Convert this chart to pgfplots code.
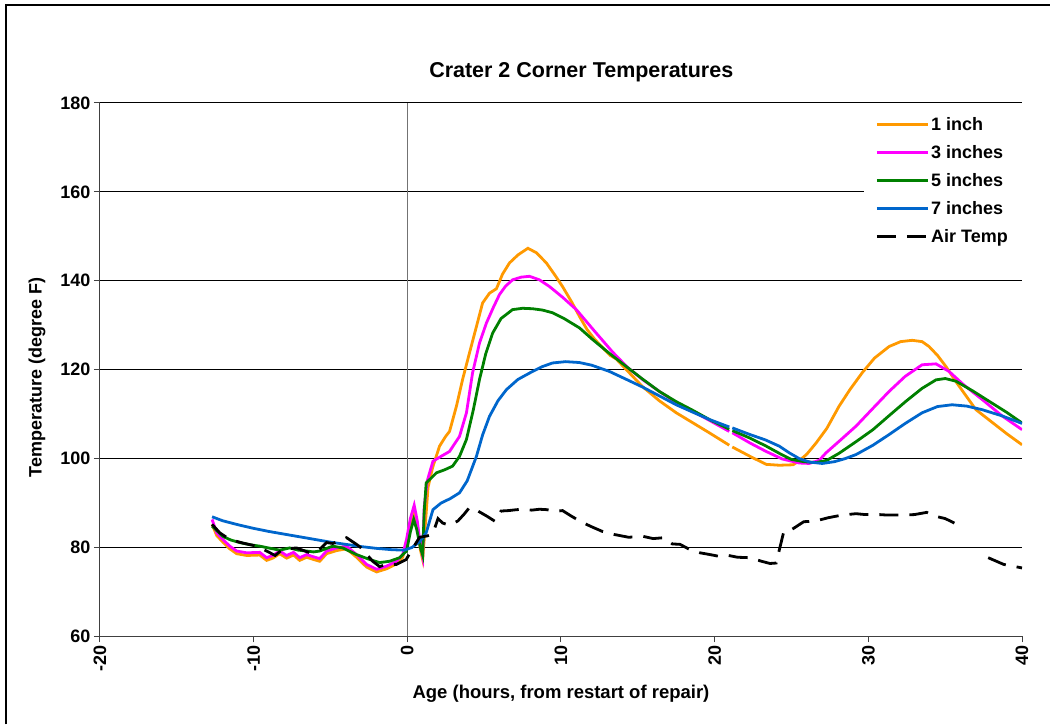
\documentclass[border=0pt]{standalone}
\usepackage{fontspec}
\setmainfont{Liberation Sans}
\usepackage{pgfplots}
\pgfplotsset{compat=1.18}

\definecolor{inA}{RGB}{255,153,0}
\definecolor{inB}{RGB}{255,0,255}
\definecolor{inC}{RGB}{0,128,0}
\definecolor{inD}{RGB}{0,102,204}

\begin{document}
\begin{tikzpicture}
\begin{axis}[
  scale only axis,
  width=923pt, height=534pt,
  xmin=-20, xmax=40, ymin=60, ymax=180,
  xtick={-20,-10,0,10,20,30,40},
  xticklabels={-20,-10,0,10,20,30,40},
  ytick={60,80,100,120,140,160,180},
  yticklabels={60,80,100,120,140,160,180},
  axis lines*=left,
  axis line style={black!75, line width=1pt},
  ymajorgrids,
  grid style={black, line width=0.9pt},
  tick align=outside,
  major tick length=6pt,
  tick style={black!75, line width=1pt},
  ticklabel style={font=\fontsize{18}{20}\selectfont\bfseries},
  xticklabel style={rotate=90, anchor=east},
  title={Crater 2 Corner Temperatures},
  title style={font=\fontsize{21.5}{24}\selectfont\bfseries, at={(0.522,1)}, anchor=center, yshift=25pt},
  xlabel={Age (hours, from restart of repair)},
  xlabel style={font=\fontsize{18.5}{20}\selectfont\bfseries, at={(axis description cs:0.5,0)}, anchor=center, yshift=-57pt},
  ylabel={Temperature (degree F)},
  ylabel style={font=\fontsize{18}{20}\selectfont\bfseries, at={([xshift=-63pt]axis description cs:0,0.485)}, anchor=center},
  unbounded coords=jump,
  legend style={at={(1,0.985)}, anchor=north east, draw=none, fill=white,
    font=\fontsize{18}{20}\selectfont\bfseries, row sep=9.5pt, inner xsep=12pt, inner ysep=4pt},
  legend cell align=left,
  legend image code/.code={\draw[#1] (0pt,0pt) -- (51pt,0pt);},
]
\coordinate (O) at (rel axis cs:0,0);
\addplot[black!55, line width=1.2pt, forget plot] coordinates {(0,60) (0,180)};

\addplot[inA, line width=2.8pt] coordinates {
(-12.7,85.2) (-12.4,82.7) (-12.0,81.2) (-11.55,79.7) (-11.1,78.6) (-10.45,78.2) (-9.6,78.3) (-9.15,77.1) (-8.75,77.6) (-8.3,78.6) (-7.85,77.6) (-7.4,78.3) (-7.0,77.1) (-6.55,77.8) (-6.1,77.3) (-5.7,76.9) (-5.25,78.6) (-4.6,79.3) (-3.95,79.7) (-3.3,77.8) (-2.65,75.6) (-2.0,74.5) (-1.35,75.2) (-0.7,76.3) (-0.3,77.8) (-0.05,80.8) (0.2,85.0) (0.45,88.3) (0.65,85.0) (0.85,79.5) (1.0,77.3) (1.15,84.0) (1.35,93.5) (1.65,98.0) (2.1,102.8) (2.5,105.0) (2.75,106.1) (3.2,111.8) (3.6,117.8) (4.05,123.8) (4.5,129.7) (4.9,135.0) (5.35,137.2) (5.8,138.2) (6.2,141.5) (6.65,144.0) (7.2,145.8) (7.85,147.3) (8.4,146.3) (9.05,144.0) (9.6,141.3) (10.1,138.7) (10.7,135.2) (11.2,132.0) (11.7,129.0) (12.2,126.8) (12.7,125.0) (13.2,123.2) (13.6,122.4) (14.25,120.0) (15.3,116.2) (16.4,113.0) (17.5,110.3) (18.6,108.0) (19.65,105.8) (20.95,103.0) (21.05,nan) (21.15,102.6) (22.3,100.5) (23.35,98.7) (24.2,98.5) (25.1,98.6) (25.5,99.5) (26.0,101.0) (26.6,103.5) (27.3,106.8) (28.1,111.8) (28.8,115.5) (29.6,119.3) (30.4,122.6) (31.35,125.2) (32.1,126.3) (32.85,126.6) (33.5,126.3) (33.95,125.2) (34.5,123.2) (35.05,120.7) (35.8,116.8) (37.0,111.0) (38.0,108.3) (39.0,105.6) (40,103.1)
};
\addplot[inB, line width=2.8pt] coordinates {
(-12.7,86.3) (-12.4,83.3) (-12.0,81.8) (-11.55,80.3) (-11.1,79.2) (-10.45,78.8) (-9.6,78.9) (-9.15,77.7) (-8.75,78.2) (-8.3,79.2) (-7.85,78.2) (-7.4,78.9) (-7.0,77.7) (-6.55,78.4) (-6.1,77.9) (-5.7,77.5) (-5.25,79.2) (-4.6,79.9) (-3.95,80.3) (-3.3,78.4) (-2.65,76.2) (-2.0,75.1) (-1.35,75.8) (-0.7,76.9) (-0.3,78.4) (-0.05,81.8) (0.2,86.5) (0.45,89.5) (0.65,86.0) (0.85,80.5) (1.0,78.0) (1.1,89.0) (1.3,95.0) (1.67,99.4) (2.2,100.5) (2.75,101.6) (3.4,105.0) (3.85,110.3) (4.25,119.3) (4.7,126.0) (5.15,130.5) (5.6,134.0) (6.0,136.9) (6.4,138.8) (6.85,140.2) (7.4,140.8) (7.95,141.0) (8.6,140.2) (9.25,138.7) (10.1,136.3) (11.0,133.5) (12.2,128.6) (13.35,124.0) (14.3,120.6) (15.3,117.8) (16.4,115.1) (17.5,112.6) (18.6,110.6) (19.65,108.6) (20.95,106.1) (21.05,nan) (21.15,105.8) (22.3,103.5) (23.35,101.6) (24.4,99.9) (25.5,99.0) (26.15,98.9) (26.8,99.6) (27.25,101.3) (28.2,104.2) (29.2,107.3) (30.3,111.3) (31.35,115.1) (32.4,118.5) (33.5,121.1) (34.4,121.3) (35.25,119.6) (36.2,116.6) (37.4,113.3) (38.7,109.6) (40,106.5)
};
\addplot[inC, line width=2.8pt] coordinates {
(-12.7,84.8) (-12.0,82.5) (-11.5,81.7) (-10.9,81.1) (-10.2,80.6) (-9.6,80.3) (-8.9,79.8) (-8.3,79.4) (-7.65,79.9) (-7.1,79.4) (-6.55,79.2) (-6.1,79.0) (-5.7,79.2) (-4.85,80.3) (-4.2,79.9) (-3.3,78.4) (-2.45,77.3) (-1.8,76.6) (-1.15,76.9) (-0.5,77.7) (-0.05,79.2) (0.2,83.5) (0.42,86.3) (0.62,84.0) (0.85,80.0) (1.0,78.3) (1.1,88.0) (1.23,94.5) (1.9,96.8) (2.45,97.5) (2.95,98.3) (3.4,100.5) (3.85,104.3) (4.3,111.0) (4.7,117.8) (5.1,123.5) (5.55,128.2) (6.1,131.5) (6.85,133.5) (7.5,133.8) (8.15,133.7) (8.8,133.4) (9.45,132.8) (10.2,131.5) (11.2,129.4) (12.05,126.8) (13.1,123.8) (14.25,120.7) (15.3,117.9) (16.4,115.1) (17.5,112.8) (18.55,110.9) (19.7,108.7) (20.95,106.6) (21.05,nan) (21.15,106.3) (22.3,104.6) (23.35,102.8) (24.3,101.0) (25.0,99.8) (25.8,99.3) (26.6,99.1) (27.3,99.6) (28.1,101.2) (29.2,103.8) (30.3,106.5) (31.4,109.8) (32.45,112.9) (33.5,115.8) (34.4,117.7) (35.0,118.0) (35.7,117.4) (36.8,115.2) (37.85,112.9) (39.0,110.4) (40,108.0)
};
\addplot[inD, line width=2.8pt] coordinates {
(-12.7,86.9) (-12,86.0) (-11,85.1) (-10,84.3) (-9,83.6) (-8,83.0) (-7,82.4) (-6,81.8) (-5,81.2) (-4,80.7) (-3,80.2) (-2,79.8) (-1,79.5) (-0.2,79.4) (0.3,80.0) (0.8,81.3) (1.23,83.3) (1.67,88.5) (2.2,90.0) (2.8,91.0) (3.4,92.3) (3.9,95.0) (4.5,100.5) (4.9,105.3) (5.35,109.5) (5.9,113.0) (6.45,115.5) (7.2,117.8) (8.15,119.6) (8.8,120.7) (9.45,121.5) (10.3,121.8) (11.2,121.6) (12.0,121.0) (13.15,119.6) (14.2,117.9) (15.3,116.1) (16.4,114.1) (17.5,112.1) (18.6,110.4) (19.65,108.8) (20.95,107.1) (21.05,nan) (21.15,106.9) (22.3,105.4) (23.3,104.2) (24.2,102.8) (24.85,101.3) (25.5,100.0) (26.2,99.2) (27.0,98.9) (27.8,99.3) (28.5,100.0) (29.2,100.9) (30.3,103.0) (31.35,105.4) (32.4,107.9) (33.5,110.3) (34.5,111.7) (35.45,112.1) (36.4,111.8) (37.4,111.0) (38.7,109.6) (40,107.9)
};
\addplot[black, line width=2.8pt, dash pattern=on 19pt off 11pt] coordinates {
(-12.7,85.2) (-12.2,83.3) (-11.55,81.8) (-10.7,81.0) (-9.8,80.3) (-9.15,79.2) (-8.6,78.2) (-8.1,79.6) (-7.2,79.9) (-6.35,78.8) (-5.7,79.6) (-5.25,81.1) (-4.85,80.9) (-3.95,82.2) (-3.3,80.7) (-3.0,79.9) (-2.25,76.9) (-1.8,75.7) (-1.35,76.2) (-0.7,76.2) (-0.07,77.3) (0.37,79.9) (0.8,82.3) (1.3,82.6) (1.65,83.0) (2.0,86.5) (2.3,85.5) (2.75,85.0) (3.3,86.0) (3.7,87.5) (4.05,89.0) (4.6,88.2) (5.2,87.0) (5.7,85.9) (6.1,88.2) (6.6,88.3) (7.1,88.5) (7.6,88.6) (8.1,88.4) (8.6,88.6) (9.1,88.5) (9.6,88.1) (10.1,88.3) (10.7,87.0) (11.2,86.0) (11.9,84.8) (12.7,83.6) (13.5,82.9) (14.4,82.3) (15.35,82.5) (16.0,82.0) (16.7,82.2) (17.25,80.8) (17.75,80.7) (18.4,79.5) (19.05,78.8) (19.7,78.4) (20.3,78.0) (20.9,78.2) (21.5,77.8) (22.3,77.7) (23.05,76.9) (23.6,76.4) (24.0,76.5) (24.5,83.6) (25.0,84.0) (25.8,85.8) (26.5,85.9) (27.4,86.7) (28.3,87.3) (29.2,87.6) (29.8,87.4) (30.7,87.4) (31.2,87.3) (32.2,87.3) (33.0,87.4) (33.8,87.9) (34.4,87.0) (35.0,86.5) (35.6,85.5) (36.0,nan) (37.8,77.7) (38.8,76.2) (39.4,75.8) (40.0,75.4)
};
\legend{1 inch, 3 inches, 5 inches, 7 inches, Air Temp}
\end{axis}
\draw[black, line width=2pt] ([shift={(-94pt,-88pt)}]O) -- ([shift={(-94pt,632pt)}]O) -- ([shift={(951pt,632pt)}]O);
\path ([shift={(-100pt,-88pt)}]O) rectangle ([shift={(951pt,637pt)}]O);
\end{tikzpicture}
\end{document}
